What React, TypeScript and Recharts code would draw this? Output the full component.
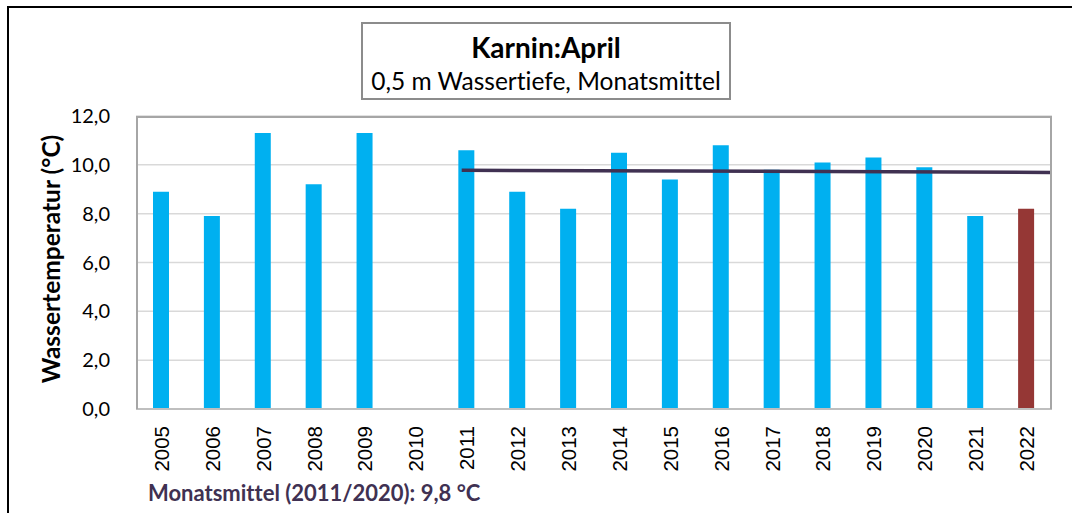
import React from 'react';
import { ComposedChart, Bar, Line, XAxis, YAxis, CartesianGrid, Cell } from 'recharts';

const years = ['2005', '2006', '2007', '2008', '2009', '2010', '2011', '2012', '2013', '2014', '2015', '2016', '2017', '2018', '2019', '2020', '2021', '2022'];
const temps: (number | null)[] = [8.9, 7.9, 11.3, 9.2, 11.3, null, 10.6, 8.9, 8.2, 10.5, 9.4, 10.8, 9.8, 10.1, 10.3, 9.9, 7.9, 8.2];
const yTicks = [0, 2, 4, 6, 8, 10, 12];
// trend line: starts at 2011 category, ends at plot edge
const trendX = [6.4, 18];
const trendY = [9.78, 9.69];

const data = years.map((y, i) => ({ year: y, temp: temps[i] }));
const trendData = trendX.map((x, i) => ({ x, v: trendY[i] }));

const BLUE = '#00B0F0';
const RED = '#953735';
const PURPLE = '#403152';
const FONT = 'Lato, "Open Sans", sans-serif';

const XTick = (props: any) => {
  const { x, y, payload } = props;
  return (
    <g transform={`translate(${x},${y})`}>
      <text
        transform="rotate(-90)"
        x={-17}
        y={0}
        dy="0.36em"
        textAnchor="end"
        fontFamily='"Liberation Sans", Arial, sans-serif'
        fontSize={20.5}
        fill="#000"
      >
        {payload.value}
      </text>
    </g>
  );
};

export default function App() {
  return (
    <div style={{ position: 'absolute', left: 0, top: 0, width: 1072, height: 513, background: '#fff', overflow: 'hidden', fontFamily: FONT, fontVariantLigatures: 'none' }}>
      <div style={{ position: 'absolute', left: 7, top: 6, width: 1100, height: 600, borderLeft: '2px solid #000', borderTop: '2px solid #000' }} />
      <ComposedChart
        width={1072}
        height={513}
        data={data}
        margin={{ top: 116, right: 20, bottom: 34, left: 0 }}
        style={{ position: 'absolute', left: 0, top: 0 }}
      >
        <CartesianGrid vertical={false} stroke="#d9d9d9" strokeWidth={1.5} />
        <XAxis
          dataKey="year"
          xAxisId={0}
          height={70}
          tickLine={false}
          tickSize={0}
          tickMargin={0}
          axisLine={{ stroke: '#bfbfbf', strokeWidth: 2 }}
          tick={<XTick />}
          interval={0}
        />
        <XAxis xAxisId="t" type="number" dataKey="x" domain={[0, 18]} hide height={0} allowDataOverflow />
        <YAxis
          width={136}
          domain={[0, 12]}
          ticks={yTicks}
          tickLine={false}
          axisLine={false}
          tickMargin={20}
          tickFormatter={(v: number) => v.toFixed(1).replace('.', ',')}
          tick={{ fontFamily: FONT, fontSize: 20, fill: '#000' }}
        />
        <Bar dataKey="temp" barSize={16} isAnimationActive={false} xAxisId={0}>
          {data.map((d) => (
            <Cell key={d.year} fill={d.year === '2022' ? RED : BLUE} />
          ))}
        </Bar>
        <Line
          data={trendData}
          xAxisId="t"
          dataKey="v"
          stroke={PURPLE}
          strokeWidth={3.5}
          dot={false}
          activeDot={false}
          isAnimationActive={false}
          type="linear"
        />
      </ComposedChart>
      <div style={{ position: 'absolute', left: 136, top: 116, width: 916, height: 293, boxSizing: 'border-box', border: '2px solid #a6a6a6', borderBottom: 'none', pointerEvents: 'none' }} />
      <div style={{ position: 'absolute', left: 361, top: 22, width: 370, height: 78, boxSizing: 'border-box', border: '2px solid #8c8c8c', background: '#fff', textAlign: 'center' }}>
        <div style={{ fontWeight: 700, fontSize: 28, lineHeight: '32px', marginTop: 7 }}>Karnin:April</div>
        <div style={{ fontSize: 24.5, lineHeight: '30px', marginTop: 3, whiteSpace: 'nowrap' }}>0,5 m Wassertiefe, Monatsmittel</div>
      </div>
      <div style={{ position: 'absolute', left: 50, top: 259, transform: 'translate(-50%,-50%) rotate(-90deg)', whiteSpace: 'nowrap', fontWeight: 700, fontSize: 24.5 }}>
        Wassertemperatur (°C)
      </div>
      <div style={{ position: 'absolute', left: 148, top: 479, whiteSpace: 'nowrap', fontWeight: 700, fontSize: 22, color: PURPLE }}>
        Monatsmittel (2011/2020): 9,8 °C
      </div>
    </div>
  );
}
